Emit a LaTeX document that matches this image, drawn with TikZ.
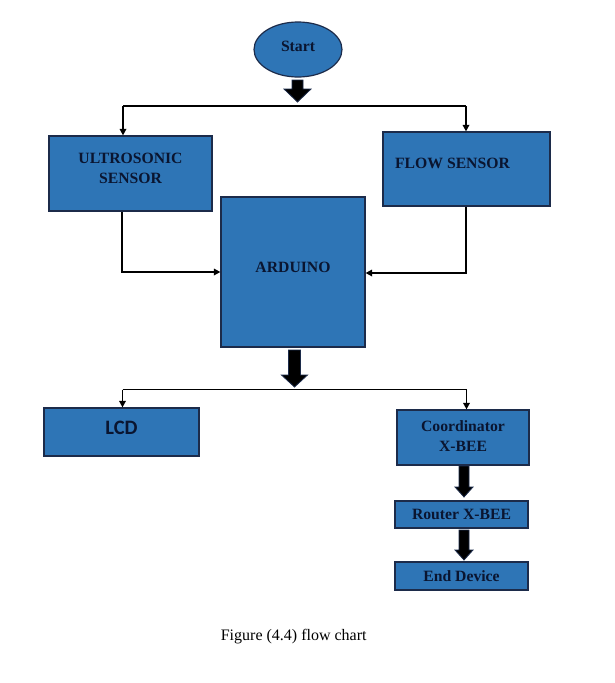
\documentclass[tikz,border=0pt]{standalone}
\usepackage{fontspec}
\setmainfont{Liberation Serif}
\newfontfamily\calib{Carlito}
\usetikzlibrary{arrows.meta,calc,shapes.geometric}
\definecolor{boxfill}{HTML}{2E75B6}
\definecolor{boxline}{HTML}{1C2B4A}
\definecolor{txt}{HTML}{0A1530}
\newcommand\blockarr[6]{%
  \filldraw[barr] ({#1-#5},#2) -- ({#1+#5},#2) -- ({#1+#5},#3) -- ({#1+#6},#3)
    -- (#1,#4) -- ({#1-#6},#3) -- ({#1-#5},#3) -- cycle;}
\begin{document}
\begin{tikzpicture}[x=1pt,y=-1pt,
  box/.style={draw=boxline, line width=1.2pt, fill=boxfill, inner sep=0pt},
  lbl/.style={font=\fontsize{15.7}{20}\selectfont\bfseries, text=txt, align=center, inner sep=0pt},
  conn/.style={line width=1.6pt, -{Triangle[length=6.5pt,width=6.5pt]}},
  line/.style={line width=1.6pt},
  barr/.style={fill=black, draw=boxline, line width=0.8pt}]
\fill[white] (0,0) rectangle (615,683);
\useasboundingbox (0,0) rectangle (615,683);

% boxes
\node[box, ellipse, minimum width=88pt, minimum height=55pt] (start) at (298,49.5) {};
\node[lbl] (startT) at ([yshift=3pt]start.center) {Start};

\node[box, minimum width=163pt, minimum height=75pt] (ultra) at (130.5,173.5) {};
\node[lbl] (ultraT) at ([yshift=5.5pt]ultra.center) {ULTROSONIC\\SENSOR};

\node[box, minimum width=167pt, minimum height=74pt] (flow) at (466.5,169) {};
\node[lbl] (flowT) at ([xshift=-14pt,yshift=6pt]flow.center) {FLOW SENSOR};

\node[box, minimum width=144pt, minimum height=150pt] (ard) at (293,272) {};
\node[lbl] (ardT) at ([yshift=5pt]ard.center) {ARDUINO};

\node[box, minimum width=155pt, minimum height=48pt] (lcd) at (121.5,432) {};
\node[lbl, font=\calib\fontsize{20.5}{24}\selectfont\bfseries] (lcdT) at ([yshift=4pt]lcd.center) {LCD};

\node[box, minimum width=132pt, minimum height=55pt] (coord) at (463,437.5) {};
\node[lbl] (coordT) at ([yshift=1pt]coord.center) {Coordinator\\X-BEE};

\node[box, minimum width=133pt, minimum height=27pt] (router) at (461.5,514.5) {};
\node[lbl] (routerT) at (router.center) {Router X-BEE};

\node[box, minimum width=133pt, minimum height=28pt] (endd) at (461.5,576) {};
\node[lbl] (enddT) at (endd.center) {End Device};

% block arrows
\blockarr{297.5}{80}{89}{102}{5.5}{13.5}
\blockarr{294.5}{350}{375}{387}{6}{13}
\blockarr{464}{466}{487}{497}{5}{9}
\blockarr{464}{530}{550}{560}{5}{9}

% branch 1
\coordinate (b1l) at (123,106);
\coordinate (b1r) at (466,106);
\draw[line] (b1l) -- (b1r);
\draw[conn] (b1l) -- (b1l |- ultra.north);
\draw[conn] (b1r) -- (b1r |- flow.north);

% sensors to arduino
\coordinate (u1) at (122,272);
\coordinate (f1) at (466,273);
\draw[conn] (u1 |- ultra.south) -- (u1) -- (ard.west |- u1);
\draw[conn] (f1 |- flow.south) -- (f1) -- (ard.east |- f1);

% branch 2
\coordinate (b2l) at (122.5,389.5);
\coordinate (b2r) at (466.5,389.5);
\draw[line] (b2l) -- (b2r);
\draw[conn] (b2l) -- (b2l |- lcd.north);
\draw[conn] (b2r) -- (b2r |- coord.north);

% caption
\node[font=\fontsize{16}{19}\selectfont, inner sep=0pt] (cap) at (293.7,637) {Figure (4.4) flow chart};
\end{tikzpicture}
\end{document}
